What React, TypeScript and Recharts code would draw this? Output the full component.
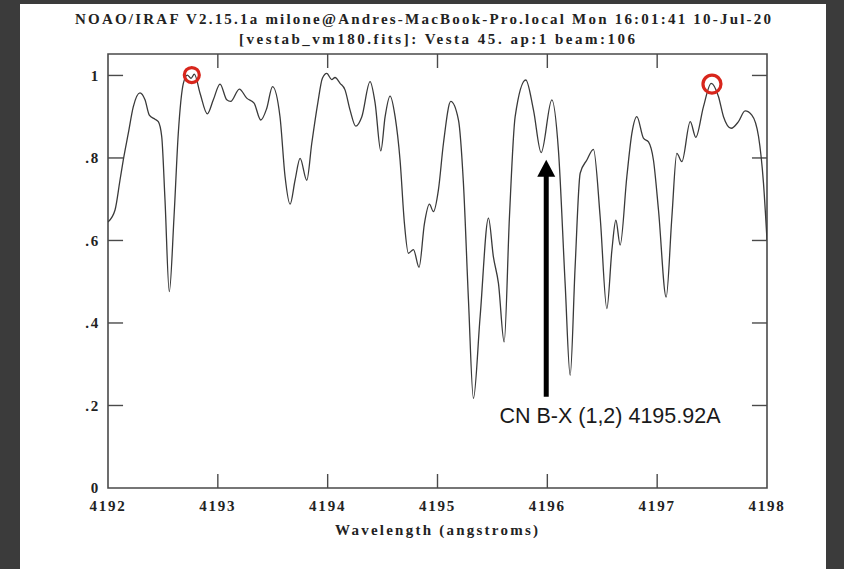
import { LineChart, Line, XAxis, YAxis, ReferenceArea, ReferenceLine, ReferenceDot } from 'recharts'

// IRAF splot of the Vesta spectrum, 4192–4198 Å
const WAVELENGTH = [
  4192.0, 4192.064, 4192.109, 4192.139, 4192.185, 4192.23, 4192.291, 4192.337, 4192.376, 4192.428,
  4192.458, 4192.489, 4192.519, 4192.558, 4192.601, 4192.64, 4192.686, 4192.722, 4192.756, 4192.786,
  4192.838, 4192.904, 4192.959, 4193.02, 4193.081, 4193.117, 4193.196, 4193.263, 4193.33, 4193.391,
  4193.445, 4193.498, 4193.566, 4193.612, 4193.658, 4193.703, 4193.749, 4193.81, 4193.855, 4193.91,
  4193.952, 4193.992, 4194.037, 4194.067, 4194.113, 4194.158, 4194.204, 4194.256, 4194.311, 4194.386,
  4194.432, 4194.484, 4194.523, 4194.568, 4194.614, 4194.659, 4194.699, 4194.735, 4194.781, 4194.832,
  4194.881, 4194.926, 4194.963, 4195.008, 4195.054, 4195.121, 4195.191, 4195.236, 4195.282, 4195.327,
  4195.388, 4195.464, 4195.509, 4195.555, 4195.607, 4195.655, 4195.707, 4195.804, 4195.874, 4195.944,
  4196.041, 4196.101, 4196.162, 4196.208, 4196.253, 4196.299, 4196.36, 4196.42, 4196.481, 4196.542,
  4196.588, 4196.624, 4196.663, 4196.724, 4196.77, 4196.815, 4196.875, 4196.921, 4196.966, 4197.012,
  4197.082, 4197.134, 4197.179, 4197.225, 4197.301, 4197.352, 4197.421, 4197.492, 4197.558, 4197.604,
  4197.674, 4197.74, 4197.801, 4197.862, 4197.923, 4197.968, 4198.0,
]
const FLUX = [
  0.645, 0.674, 0.746, 0.795, 0.86, 0.924, 0.958, 0.941, 0.904, 0.894,
  0.888, 0.852, 0.698, 0.476, 0.657, 0.86, 0.981, 1.001, 0.993, 1.003,
  0.957, 0.907, 0.941, 0.979, 0.941, 0.937, 0.967, 0.945, 0.933, 0.892,
  0.92, 0.973, 0.9, 0.755, 0.688, 0.746, 0.799, 0.746, 0.835, 0.933,
  0.993, 1.005, 0.99, 0.995, 0.981, 0.965, 0.916, 0.877, 0.9, 0.985,
  0.933, 0.817, 0.9, 0.95, 0.9, 0.795, 0.641, 0.569, 0.578, 0.535,
  0.641, 0.688, 0.67, 0.722, 0.835, 0.937, 0.892, 0.739, 0.455, 0.217,
  0.415, 0.654, 0.56, 0.496, 0.354, 0.657, 0.9, 0.989, 0.916, 0.813,
  0.941, 0.819, 0.496, 0.273, 0.536, 0.763, 0.795, 0.821, 0.657, 0.435,
  0.577, 0.649, 0.589, 0.755, 0.86, 0.9, 0.848, 0.839, 0.795, 0.674,
  0.463, 0.657, 0.811, 0.791, 0.888, 0.85, 0.924, 0.981, 0.949, 0.9,
  0.872, 0.888, 0.914, 0.904, 0.852, 0.739, 0.601,
]

const X_TICKS = [4192, 4193, 4194, 4195, 4196, 4197, 4198]
const Y_TICKS = [0, 0.2, 0.4, 0.6, 0.8, 1]
const X_DOMAIN = [4192, 4198]
const Y_DOMAIN = [0, 1.052]

const TITLE = [
  'NOAO/IRAF V2.15.1a milone@Andres-MacBook-Pro.local Mon 16:01:41 10-Jul-20',
  '[vestab_vm180.fits]: Vesta 45. ap:1 beam:106',
]
const X_LABEL = 'Wavelength (angstroms)'

// continuum peaks circled in red
const PEAK_WAVE = [4192.763, 4197.499]
const PEAK_FLUX = [1.001, 0.979]

const LINE_LABEL = 'CN B-X (1,2) 4195.92A'
const LINE_WAVE = 4195.99

const data = WAVELENGTH.map((w, i) => ({ w, f: FLUX[i] }))

// IRAF-ish bold serif with wide spacing
const IRAF = {
  fontFamily: '"Liberation Serif", "DejaVu Serif", serif',
  fontWeight: 700,
  fontSize: 15,
  fill: '#222',
}
const TICK = { ...IRAF, letterSpacing: 1.8 }
const FRAME = '#4a4a4a'

const fmtY = (v: number) => (v === 0 ? '0' : v === 1 ? '1' : '.' + Math.round(v * 10))

export default function App() {
  const tx = 0.137 // inner tick length on the wavelength axis
  const ty = 0.034 // inner tick length on the flux axis
  return (
    <div style={{ position: 'absolute', left: 0, top: 0, width: 844, height: 569, background: '#3b3b3b' }}>
      <div style={{ position: 'absolute', left: 20, top: 4, width: 806, height: 565, background: '#fff' }} />
      <div style={{ position: 'absolute', left: 0, top: 0 }}>
        <LineChart width={844} height={569} data={data} margin={{ top: 54, right: 77, bottom: 51, left: 68 }}>
          <XAxis
            dataKey="w" type="number" domain={X_DOMAIN} ticks={X_TICKS} allowDataOverflow
            axisLine={false} tickLine={false} tickSize={0} tickMargin={12} height={30}
            tick={TICK}
          />
          <YAxis
            type="number" domain={Y_DOMAIN} ticks={Y_TICKS} allowDataOverflow
            axisLine={false} tickLine={false} tickSize={0} tickMargin={8} width={40}
            tick={TICK} tickFormatter={fmtY}
          />
          <ReferenceArea x1={X_DOMAIN[0]} x2={X_DOMAIN[1]} y1={Y_DOMAIN[0]} y2={Y_DOMAIN[1]}
            fill="none" stroke={FRAME} strokeWidth={1.6} />
          {X_TICKS.slice(1, -1).map(t => (
            <ReferenceLine key={'b' + t} segment={[{ x: t, y: 0 }, { x: t, y: ty }]} stroke={FRAME} strokeWidth={1.4} />
          ))}
          {X_TICKS.slice(1, -1).map(t => (
            <ReferenceLine key={'t' + t} segment={[{ x: t, y: Y_DOMAIN[1] }, { x: t, y: Y_DOMAIN[1] - ty }]} stroke={FRAME} strokeWidth={1.4} />
          ))}
          {Y_TICKS.slice(1).map(t => (
            <ReferenceLine key={'l' + t} segment={[{ x: 4192, y: t }, { x: 4192 + tx, y: t }]} stroke={FRAME} strokeWidth={1.4} />
          ))}
          {Y_TICKS.slice(1).map(t => (
            <ReferenceLine key={'r' + t} segment={[{ x: 4198, y: t }, { x: 4198 - tx, y: t }]} stroke={FRAME} strokeWidth={1.4} />
          ))}
          <Line dataKey="f" type="monotone" stroke="#3a3a3a" strokeWidth={1.3} dot={false} isAnimationActive={false} />
          {PEAK_WAVE.map((w, i) => (
            <ReferenceDot key={'p' + i} x={w} y={PEAK_FLUX[i]} r={i === 0 ? 7.5 : 9}
              fill="none" stroke="#d8261c" strokeWidth={3.2} />
          ))}
          <ReferenceLine segment={[{ x: LINE_WAVE, y: 0.221 }, { x: LINE_WAVE, y: 0.76 }]} stroke="#000" strokeWidth={5} />
          <ReferenceDot x={LINE_WAVE} y={0.7545} r={1}
            shape={(p: any) => (
              <polygon points={`${p.cx - 9},${p.cy} ${p.cx + 9},${p.cy} ${p.cx},${p.cy - 17}`} fill="#000" />
            )} />
          <ReferenceDot x={4195.564} y={0.158} r={1}
            shape={(p: any) => (
              <text x={p.cx} y={p.cy} fontFamily='"Liberation Sans", Arial, sans-serif' fontSize={21.5} fill="#1a1a1a">
                {LINE_LABEL}
              </text>
            )} />
        </LineChart>
      </div>
      <svg width={844} height={569} style={{ position: 'absolute', left: 0, top: 0, pointerEvents: 'none' }}>
        <text x={75} y={24} textLength={696} lengthAdjust="spacing" {...IRAF}>{TITLE[0]}</text>
        <text x={239} y={44} textLength={396} lengthAdjust="spacing" {...IRAF}>{TITLE[1]}</text>
        <text x={335} y={535} textLength={203} lengthAdjust="spacing" {...IRAF}>{X_LABEL}</text>
      </svg>
    </div>
  )
}
